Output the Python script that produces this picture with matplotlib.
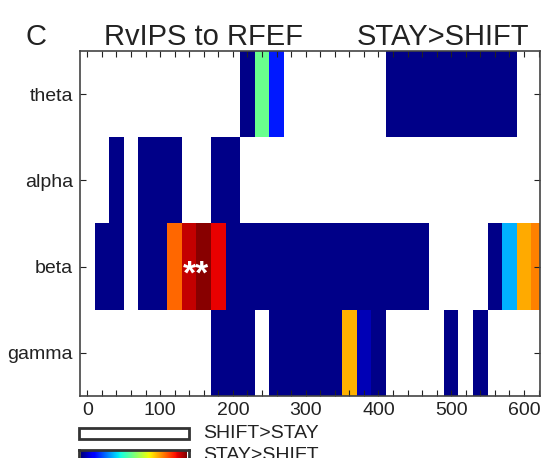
import numpy as np
import matplotlib
matplotlib.use("Agg")
from matplotlib import pyplot as plt
from matplotlib.patches import Rectangle

plt.rcParams['font.family'] = ['Liberation Sans', 'DejaVu Sans']

# time bins (ms), one column per bin
times = np.arange(0, 640, 20)
bands = ['theta', 'alpha', 'beta', 'gamma']
n = np.nan

# STAY>SHIFT effect strength per bin (0..1 on jet), nan = SHIFT>STAY
theta = [n, n, n, n, n, n, n, n, n, n, n, .01, .48, .15, n, n,
         n, n, n, n, n, .01, .01, .01, .01, .01, .01, .01, .01, .01, n, n]
alpha = [n, n, .01, n, .01, .01, .01, n, n, .01, .01, n, n, n, n, n,
         n, n, n, n, n, n, n, n, n, n, n, n, n, n, n, n]
beta = [n, .01, .01, n, .01, .01, .80, .94, .99, .91, .01, .01, .01, .01, .01, .01,
        .01, .01, .01, .01, .01, .01, .01, .01, n, n, n, n, .01, .30, .73, .77]
gamma = [n, n, n, n, n, n, n, n, n, .01, .01, .01, n, .01, .01, .01,
         .01, .01, .72, .05, .01, n, n, n, n, .01, n, .01, n, n, n, n]

grid = np.ma.masked_invalid(np.array([theta, alpha, beta, gamma]))

fig = plt.figure(figsize=(5.55, 4.58), dpi=100)
ax = fig.add_axes([80 / 555, 62 / 458, 460 / 555, 345 / 458])

cmap = plt.get_cmap('jet').copy()
cmap.set_bad('white')
step = times[1] - times[0]
ax.imshow(grid, cmap=cmap, vmin=0, vmax=1, aspect='auto', interpolation='nearest',
          extent=(times[0] - step / 2, times[-1] + step / 2, len(bands) - 0.5, -0.5))
ax.set_xlim(-10, 622)
ax.set_ylim(len(bands) - 0.5, -0.5)

ax.text(150, 2.1, '**', color='white', fontsize=24, fontweight='bold',
        ha='center', va='center')

ax.set_xticks(np.arange(0, 700, 100))
ax.set_xticks(times, minor=True)
ax.set_yticks(range(len(bands)))
ax.set_yticklabels(bands)
ax.tick_params(which='both', direction='in', top=True, right=True,
               length=4, width=0.8, colors='#222222', labelsize=14, pad=4)
ax.tick_params(axis='y', pad=5)
for s in ax.spines.values():
    s.set_color('#444444')
    s.set_linewidth(1.2)

ty = 1 - 37 / 458
fig.text(36 / 555, ty, 'C', fontsize=21, ha='center', va='center', color='#222222')
fig.text(204 / 555, ty, 'RvIPS to RFEF', fontsize=21, ha='center', va='center', color='#222222')
fig.text(443 / 555, ty, 'STAY>SHIFT', fontsize=21, ha='center', va='center', color='#222222')

# legend: white box and jet gradient box
lx0, lx1 = 79 / 555, 189 / 555
fig.patches.append(Rectangle((lx0, 1 - 439 / 458), lx1 - lx0, 11 / 458,
                             transform=fig.transFigure, facecolor='white',
                             edgecolor='#333333', linewidth=2))
fig.text(203 / 555, 1 - 434 / 458, 'SHIFT>STAY', fontsize=14, ha='left', va='center', color='#222222')
gax = fig.add_axes([lx0, 1 - 462 / 458, lx1 - lx0, 12 / 458])
ramp = np.linspace(0, 1, 256)
gax.imshow(ramp[None, :], cmap='jet', aspect='auto',
           extent=(0.02, 0.98, 0, 1))
gax.set_xlim(0, 1)
gax.set_ylim(0, 1)
gax.set_xticks([])
gax.set_yticks([])
for s in gax.spines.values():
    s.set_color('#333333')
    s.set_linewidth(2)
fig.text(203 / 555, 1 - 455 / 458, 'STAY>SHIFT', fontsize=14, ha='left', va='center', color='#222222')

fig.savefig('out.png', dpi=100)
